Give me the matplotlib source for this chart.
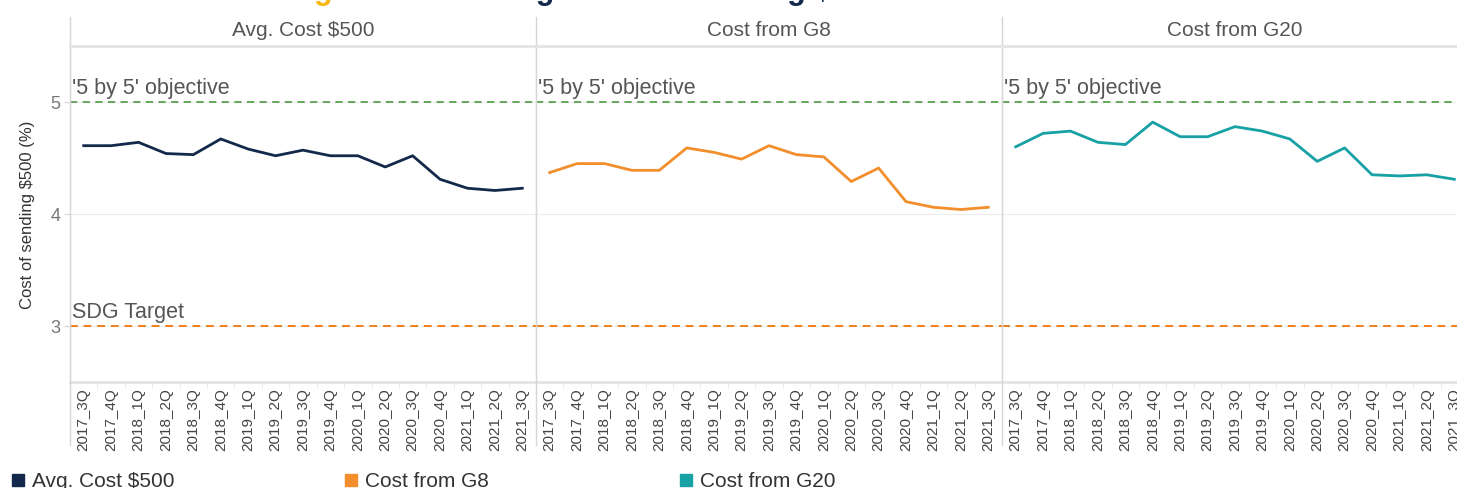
import numpy as np
import matplotlib
matplotlib.use("Agg")
import matplotlib.pyplot as plt
from matplotlib.lines import Line2D
from matplotlib.patches import Rectangle

plt.rcParams['font.family'] = ['Liberation Sans', 'DejaVu Sans']

quarters = ['2017_3Q', '2017_4Q', '2018_1Q', '2018_2Q', '2018_3Q', '2018_4Q',
            '2019_1Q', '2019_2Q', '2019_3Q', '2019_4Q', '2020_1Q', '2020_2Q',
            '2020_3Q', '2020_4Q', '2021_1Q', '2021_2Q', '2021_3Q']

avg_cost = [4.61, 4.61, 4.64, 4.54, 4.53, 4.67, 4.58, 4.52, 4.57, 4.52,
            4.52, 4.42, 4.52, 4.31, 4.23, 4.21, 4.23]
cost_g8 = [4.37, 4.45, 4.45, 4.39, 4.39, 4.59, 4.55, 4.49, 4.61, 4.53,
           4.51, 4.29, 4.41, 4.11, 4.06, 4.04, 4.06]
cost_g20 = [4.60, 4.72, 4.74, 4.64, 4.62, 4.82, 4.69, 4.69, 4.78, 4.74,
            4.67, 4.47, 4.59, 4.35, 4.34, 4.35, 4.31]

panel_names = ['Avg. Cost $500', 'Cost from G8', 'Cost from G20']
panel_colors = ['#13294b', '#f28e2b', '#17a1a5']
objective_5by5 = 5
sdg_target = 3

W, H = 1457, 489
fig = plt.figure(figsize=(W / 100, H / 100), dpi=100)

grey = '#d6d6d6'
panel_left = [70, 536, 1002]
panel_w = 466
top_px, bot_px = 47, 383

def fx(px):
    return px / W

def fy(py):
    return 1 - py / H

series = [avg_cost, cost_g8, cost_g20]
for i in range(3):
    ax = fig.add_axes([fx(panel_left[i]), fy(bot_px), fx(panel_w), (bot_px - top_px) / H])
    x = np.arange(len(quarters))
    ax.axhline(objective_5by5, color='#59a14f', lw=1.3, ls=(0, (4, 3)), zorder=2)
    ax.axhline(sdg_target, color='#f07f19', lw=1.4, ls=(0, (4, 3)), zorder=2)
    ax.plot(x, series[i], color=panel_colors[i], lw=2.0, zorder=3, solid_joinstyle='round')
    ax.set_xlim(-0.5, len(quarters) - 0.5)
    ax.set_ylim(2.5, 5.5)
    ax.set_yticks([3, 4, 5])
    ax.grid(axis='y', color='#ececec', lw=0.8, zorder=0)
    ax.set_xticks(x)
    ax.set_xticklabels(quarters, rotation=90, fontsize=11, color='#444444')
    ax.set_xticks(np.arange(-0.5, len(quarters)), minor=True)
    ax.tick_params(axis='x', which='major', length=0, pad=4)
    ax.tick_params(axis='x', which='minor', length=4, color='#e6e6e6')
    for s in ['top', 'right']:
        ax.spines[s].set_visible(False)
    ax.spines['left'].set_color(grey)
    ax.spines['bottom'].set_color('#e4e4e4')
    ax.spines['bottom'].set_linewidth(2)
    if i == 0:
        ax.tick_params(axis='y', length=4, color=grey, labelsize=13, labelcolor='#777777', pad=3)
        ax.set_ylabel('Cost of sending $500 (%)', fontsize=12, color='#333333', labelpad=11)
        ax.text(0.005, sdg_target + 0.04, 'SDG Target', transform=ax.get_yaxis_transform(),
                fontsize=15.5, color='#555555', va='bottom')
    else:
        ax.tick_params(axis='y', length=0, labelleft=False)
    ax.text(0.005, objective_5by5 + 0.04, "'5 by 5' objective", transform=ax.get_yaxis_transform(),
            fontsize=15.5, color='#555555', va='bottom')

    # header
    fig.text(fx(panel_left[i] + panel_w / 2), fy(30), panel_names[i], ha='center', va='center',
             fontsize=15, color='#555555')

# separators and header line
for px in panel_left:
    fig.add_artist(Line2D([fx(px), fx(px)], [fy(18), fy(446)], color=grey, lw=1))
fig.add_artist(Line2D([fx(70), 1], [fy(47), fy(47)], color='#e4e4e4', lw=2))

# clipped title at the top
fig.text(fx(287), fy(-1.5), 'Figure 3:', color='#f5b70f', fontsize=22, fontweight='bold',
         va='baseline', ha='left')
fig.text(fx(452), fy(-1.5), 'Average cost of sending $500 from G8 countries', color='#13294b',
         fontsize=22, fontweight='bold', va='baseline', ha='left')

# legend
legend_x = [12, 345, 680]
for i in range(3):
    fig.add_artist(Rectangle((fx(legend_x[i]), fy(487)), fx(12), 12 / H,
                             color=panel_colors[i], transform=fig.transFigure))
    fig.text(fx(legend_x[i] + 20), fy(487), panel_names[i], fontsize=15, color='#333333',
             va='baseline', ha='left')

fig.savefig('out.png', dpi=100)
